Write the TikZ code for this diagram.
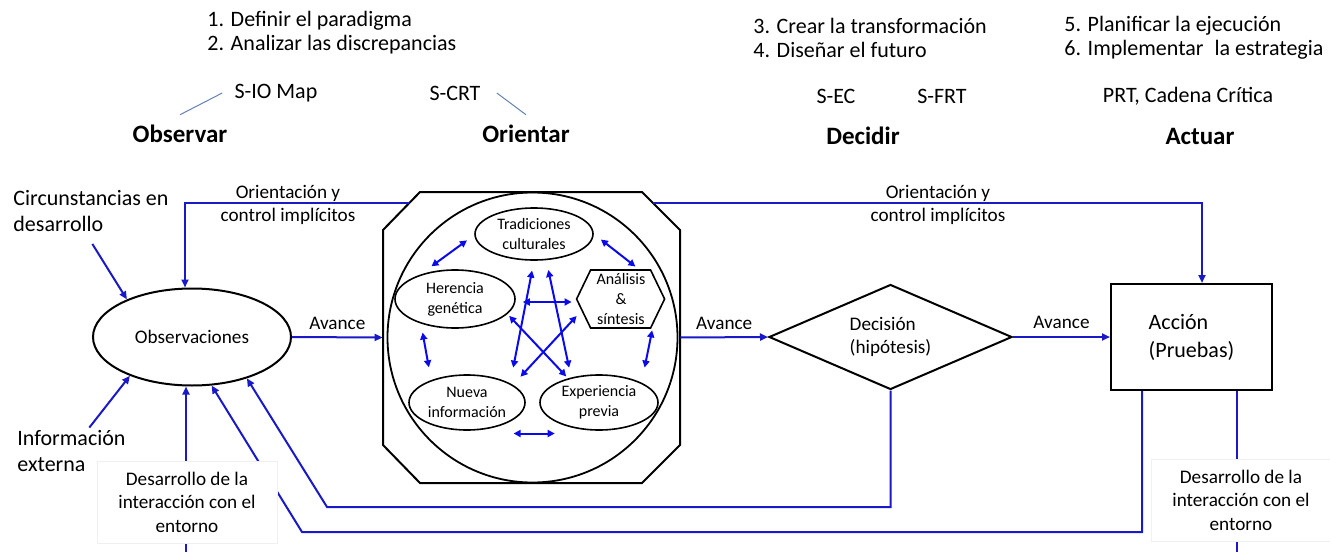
\documentclass[tikz,border=0pt]{standalone}
\usepackage{fontspec}
\setmainfont{Carlito}
\usetikzlibrary{arrows.meta,shapes.geometric}
\definecolor{flowblue}{RGB}{25,25,200}
\definecolor{arrblue}{RGB}{10,10,235}
\definecolor{tieblue}{RGB}{100,130,180}

\begin{document}
\begin{tikzpicture}[x=0.5pt, y=-0.5pt,
	flow/.style={draw=flowblue, line width=1pt, -{Triangle[length=4pt,width=3.5pt]}},
	link/.style={draw=flowblue, line width=1pt},
	twoway/.style={draw=arrblue, line width=1pt, {Triangle[length=3.5pt,width=3.5pt]}-{Triangle[length=3.5pt,width=3.5pt]}},
	tie/.style={draw=tieblue, line width=0.5pt},
	blob/.style={ellipse, draw, line width=0.8pt, inner sep=0pt, align=center, font=\fontsize{8}{10}\selectfont},
	envtag/.style={fill=white, draw=black!6, inner sep=0pt, minimum width=90pt, minimum height=41pt, align=center, font=\fontsize{9.6}{11.75}\selectfont},
	phasename/.style={inner sep=0pt, font=\fontsize{12.5}{15}\selectfont\bfseries},
	note/.style={inner sep=0pt, font=\fontsize{11}{12}\selectfont},
	side/.style={inner sep=0pt, anchor=west, align=left, font=\fontsize{11}{13}\selectfont},
	lbl/.style={inner sep=0pt, font=\fontsize{9.6}{11.5}\selectfont}]
	\useasboundingbox (0,0) rectangle (1330,552);

	% fases y herramientas
	\node[note, anchor=west, align=left] (stepsA) at (207,33) {1. Definir el paradigma\\2. Analizar las discrepancias};
	\node[note, anchor=west, align=left] (stepsB) at (753,38) {3. Crear la transformación\\4. Diseñar el futuro};
	\node[note, anchor=west, align=left] (stepsC) at (1064,38) {5. Planificar la ejecución\\6. Implementar\hspace{3pt} la estrategia};
	\node[note] (sio) at (276,93) {S-IO Map};
	\node[note] (scrt) at (455,93) {S-CRT};
	\node[note] (sec) at (836,96) {S-EC};
	\node[note] (sfrt) at (942,96) {S-FRT};
	\node[note] (prt) at (1188,96) {PRT, Cadena Crítica};
	\node[phasename] (observar) at (180,134) {Observar};
	\node[phasename] (orientar) at (526,134) {Orientar};
	\node[phasename] (decidir) at (863,136) {Decidir};
	\node[phasename] (actuar) at (1200,136) {Actuar};
	\draw[tie] ([xshift=-6pt]sio.west) -- ([yshift=5pt]observar.north);
	\draw[tie] ([xshift=8pt]scrt.east) -- ([yshift=5pt]orientar.north);

	% ciclo
	\node[ellipse, draw, line width=1pt, minimum width=99pt, minimum height=48.5pt, inner sep=0pt, font=\fontsize{9.6}{11}\selectfont] (obs) at (192,337) {Observaciones};
	\node[minimum width=148.5pt, minimum height=145.5pt, inner sep=0pt] (orient) at (531.5,337.5) {};
	\draw[line width=1pt] (420,192) -- (642,192) -- (680,230) -- (680,445) -- (642,483) -- (420,483) -- (383,445) -- (383,230) -- cycle;
	\node[circle, draw, line width=0.9pt, minimum size=145pt, inner sep=0pt] (ring) at (532.5,337.5) {};
	\coordinate (octNW) at (409,203);
	\coordinate (octNE) at (653,203);
	\node[diamond, draw, line width=1pt, minimum width=121.5pt, minimum height=52.5pt, inner sep=0pt] (dec) at (890.5,337) {};
	\node[lbl, align=left] (dectxt) at (dec.center) {Decisión\\(hipótesis)};
	\node[draw, line width=1pt, minimum width=80.5pt, minimum height=53pt, inner sep=0pt, align=left, font=\fontsize{11}{14}\selectfont] (acc) at (1191.5,337) {Acción\\(Pruebas)};

	% dentro de orientar
	\node[blob, minimum width=59pt, minimum height=26pt] (trad) at (534,234) {Tradiciones\\culturales};
	\node[blob, minimum width=60pt, minimum height=29pt] (her) at (455,299) {Herencia\\genética};
	\node[inner sep=0pt, minimum width=44pt, minimum height=29pt, align=center, font=\fontsize{8}{10}\selectfont] (ana) at (621,299) {Análisis\\\&\\síntesis};
	\draw[line width=0.8pt] (ana.west) -- ++(14,-29) -- ++(60,0) -- ++(14,29) -- ++(-14,29) -- ++(-60,0) -- cycle;
	\node[blob, minimum width=58pt, minimum height=27.5pt] (nue) at (467,402.5) {Nueva\\información};
	\node[blob, minimum width=59pt, minimum height=27.5pt] (exp) at (599,402.5) {Experiencia\\previa};
	\draw[twoway, shorten <=7pt, shorten >=4.5pt] (her.145) -- (trad.181);
	\draw[twoway, shorten <=4.5pt, shorten >=2.5pt] (trad.east) -- (ana.58);
	\draw[twoway, shorten <=4.5pt, shorten >=6.5pt] (her.216) -- (nue.148);
	\draw[twoway, shorten <=1pt, shorten >=7.7pt] (ana.-43) -- (exp.25);
	\draw[twoway, shorten <=2.5pt, shorten >=1pt] ([yshift=-5.5pt]nue.south east) -- ([yshift=-5.5pt]exp.south west);
	\draw[twoway, shorten <=3.5pt, shorten >=2.5pt] ([yshift=-1.5pt]her.east) -- ([yshift=-1.5pt]ana.west);
	\draw[twoway, shorten <=5pt, shorten >=8pt] (trad.south) -- (nue.24);
	\draw[twoway, shorten <=5pt, shorten >=5pt] (trad.-65) -- (exp.138);
	\draw[twoway, shorten <=1.25pt, shorten >=1.3pt] (her.-16) -- (exp.142);
	\draw[twoway, shorten >=5.6pt] (ana.201) -- (nue.21);

	% entradas
	\node[side] (circ) at (13,211) {Circunstancias en\\desarrollo};
	\node[side] (info) at (17,451) {Información\\externa};
	\draw[flow, shorten <=7pt] ([xshift=-3pt]circ.south) -- (obs.150);
	\draw[flow, shorten <=1.5pt] ([xshift=8pt]info.north) -- (obs.-148);

	% avance
	\draw[flow] (obs.east) -- node[lbl, above=3.5pt] (av1) {Avance} (orient.west);
	\draw[flow] (orient.east) -- node[lbl, above=3.5pt] (av2) {Avance} (dec.west);
	\draw[flow] (dec.east) -- node[lbl, above=3.5pt] (av3) {Avance} (acc.west);

	% orientacion y control
	\draw[flow] (octNW) -| ([xshift=-3.5pt]obs.north);
	\node[lbl, align=center] (ctlL) at (288,205) {Orientación y\\control implícitos};
	\draw[flow] (octNE) -| ([xshift=5.25pt]acc.north);
	\node[lbl, align=center] (ctlR) at (938,205) {Orientación y\\control implícitos};

	% realimentacion
	\coordinate (loopA) at (327,507);
	\coordinate (loopB) at (302,532);
	\coordinate (botL) at (186,552);
	\coordinate (botR) at (1237,552);
	\draw[flow] (dec.south) |- (loopA) -- (obs.-37);
	\draw[flow] ([xshift=-24.75pt]acc.south) |- (loopB) -- (obs.-68);
	\draw[flow] (botL) -- (botL |- obs.south);
	\draw[link] (botR |- acc.south) -- (botR);
	\node[envtag] (envL) at (187,502) {Desarrollo de la\\interacción con el\\entorno};
	\node[envtag] (envR) at (1241,500) {Desarrollo de la\\interacción con el\\entorno};
\end{tikzpicture}
\end{document}
